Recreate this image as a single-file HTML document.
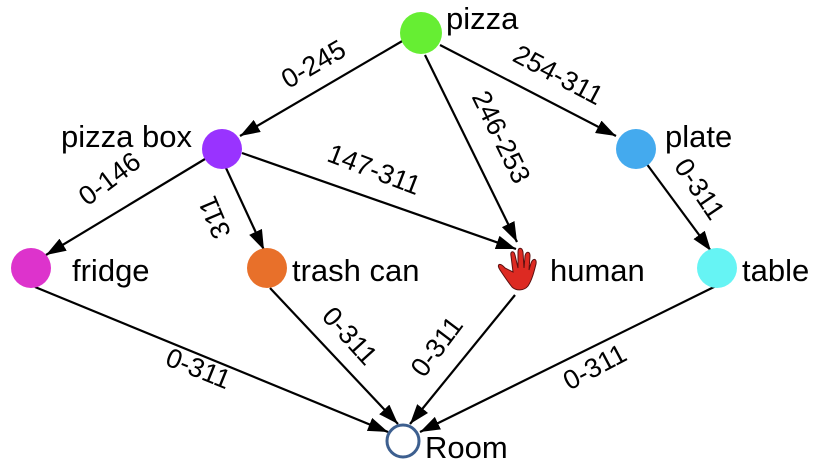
<!DOCTYPE html>
<html><head><style>
html,body{margin:0;padding:0;background:#fff;}
svg{display:block;}
text{font-family:"Liberation Sans",Arial,sans-serif;fill:#000;}
.n{font-size:31px;}
.e{font-size:27px;}
line{stroke:#000;stroke-width:2.2;}
</style></head><body>
<svg width="824" height="468" viewBox="0 0 824 468" xmlns="http://www.w3.org/2000/svg">
<defs>
<marker id="a" viewBox="0 0 20 14" refX="20" refY="7" markerWidth="20" markerHeight="14" markerUnits="userSpaceOnUse" orient="auto">
<path d="M0,0 L20,7 L0,14 Z" fill="#000"/>
</marker>
</defs>
<line x1="404" y1="40" x2="240" y2="136" marker-end="url(#a)"/>
<line x1="425" y1="55" x2="517" y2="242" marker-end="url(#a)"/>
<line x1="440" y1="45" x2="616" y2="136" marker-end="url(#a)"/>
<line x1="646" y1="163" x2="711" y2="251" marker-end="url(#a)"/>
<line x1="205" y1="159" x2="46" y2="255" marker-end="url(#a)"/>
<line x1="226" y1="168" x2="264" y2="250" marker-end="url(#a)"/>
<line x1="242" y1="153" x2="516" y2="249" marker-end="url(#a)"/>
<line x1="35" y1="287" x2="388" y2="432" marker-end="url(#a)"/>
<line x1="270" y1="288" x2="398" y2="424" marker-end="url(#a)"/>
<line x1="515" y1="295" x2="410" y2="424" marker-end="url(#a)"/>
<line x1="718" y1="285" x2="420" y2="432" marker-end="url(#a)"/>
<circle cx="421" cy="33" r="21" fill="#66ee33"/>
<circle cx="222" cy="149" r="20" fill="#9933ff"/>
<circle cx="636" cy="149" r="20" fill="#44aaee"/>
<circle cx="31" cy="268" r="20" fill="#dd33cc"/>
<circle cx="267" cy="268" r="20" fill="#e8702a"/>
<circle cx="717" cy="268" r="20" fill="#66f4f4"/>
<circle cx="403" cy="441" r="16" fill="#fff" stroke="#3d5f8f" stroke-width="3"/>
<path d="M505,268 C500,262 496,264 500,270 C504,276 508,282 512,287 C516,291 524,291 528,286 C532,280 534,272 536,264 C537,258 533,258 531,263 L529,270 L530,256 C530,251 526,251 525,256 L524,268 L523,252 C522,247 518,247 518,252 L518,268 L515,255 C514,250 510,251 511,256 L513,272 Z" fill="#dd2a22" stroke="#5a1010" stroke-width="1"/>
<text class="n" x="446" y="29">pizza</text>
<text class="n" x="192" y="147" text-anchor="end">pizza box</text>
<text class="n" x="665" y="147">plate</text>
<text class="n" x="72" y="281">fridge</text>
<text class="n" x="292" y="281">trash can</text>
<text class="n" x="550" y="281">human</text>
<text class="n" x="742" y="281">table</text>
<text class="n" x="425" y="458">Room</text>
<text class="e" text-anchor="middle" transform="translate(318,72) rotate(-30)">0-245</text>
<text class="e" text-anchor="middle" transform="translate(554,83) rotate(28)">254-311</text>
<text class="e" text-anchor="middle" transform="translate(493,141) rotate(64)">246-253</text>
<text class="e" text-anchor="middle" transform="translate(692,194) rotate(56)">0-311</text>
<text class="e" text-anchor="middle" transform="translate(115,186) rotate(-37)">0-146</text>
<text class="e" text-anchor="middle" transform="translate(223,214) rotate(247)">311</text>
<text class="e" text-anchor="middle" transform="translate(371,178) rotate(21)">147-311</text>
<text class="e" text-anchor="middle" transform="translate(195,377) rotate(22)">0-311</text>
<text class="e" text-anchor="middle" transform="translate(343,342) rotate(48)">0-311</text>
<text class="e" text-anchor="middle" transform="translate(444,352) rotate(-53)">0-311</text>
<text class="e" text-anchor="middle" transform="translate(599,375) rotate(-28)">0-311</text>
</svg>
</body></html>
